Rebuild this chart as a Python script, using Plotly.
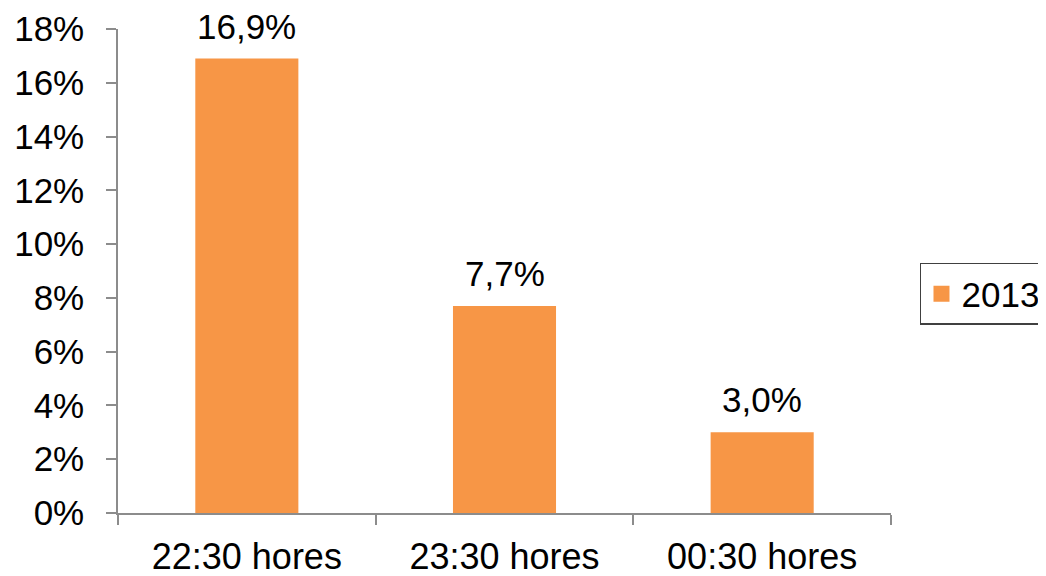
import plotly.graph_objects as go

categories = ["22:30 hores", "23:30 hores", "00:30 hores"]
values_2013 = [16.9, 7.7, 3.0]
series_name = "2013"
y_ticks = [0, 2, 4, 6, 8, 10, 12, 14, 16, 18]
y_tick_labels = [f"{t}%" for t in y_ticks]

BAR_COLOR = "#F79646"
FONT = "Liberation Sans, Arial, sans-serif"

fig = go.Figure()
fig.add_trace(go.Bar(
    x=categories, y=values_2013, name=series_name,
    marker=dict(color=BAR_COLOR, line=dict(width=0)),
    width=0.4, showlegend=False,
))
# legend proxy with a larger square symbol
fig.add_trace(go.Scatter(
    x=[None], y=[None], mode="markers", name=series_name,
    marker=dict(symbol="square", size=20, color=BAR_COLOR),
    showlegend=True,
))

for c, v in zip(categories, values_2013):
    fig.add_annotation(
        x=c, y=v, text=f"{v:.1f}".replace(".", ",") + "%",
        showarrow=False, yanchor="bottom", yshift=11,
        font=dict(size=35, color="#000000", family=FONT),
    )

fig.update_layout(
    width=1038, height=568,
    margin=dict(l=110, r=155, t=21, b=63, autoexpand=False),
    paper_bgcolor="white", plot_bgcolor="white",
    font=dict(family=FONT, size=35, color="#000000"),
    legend=dict(
        x=1.0375, y=0.4525, xanchor="left", yanchor="middle",
        bordercolor="#404040", borderwidth=1.5, bgcolor="white",
        font=dict(size=35, color="#000000", family=FONT),
        itemwidth=30, tracegroupgap=0,
    ),
    xaxis=dict(
        showline=True, linecolor="#8C8C8C", linewidth=1.5,
        ticks="outside", tickson="boundaries", ticklen=10,
        tickcolor="#8C8C8C", tickwidth=1.5,
        showgrid=False, zeroline=False,
        ticklabelstandoff=11,
        tickfont=dict(size=36, color="#000000", family=FONT),
    ),
    yaxis=dict(
        range=[0, 18], tickvals=y_ticks, ticktext=y_tick_labels,
        showline=True, linecolor="#8C8C8C", linewidth=1.5,
        ticks="outside", ticklen=10, tickcolor="#8C8C8C", tickwidth=1.5,
        showgrid=False, zeroline=False,
        ticklabelstandoff=15,
        tickfont=dict(size=35, color="#000000", family=FONT),
    ),
)

fig.write_html("out.html")
